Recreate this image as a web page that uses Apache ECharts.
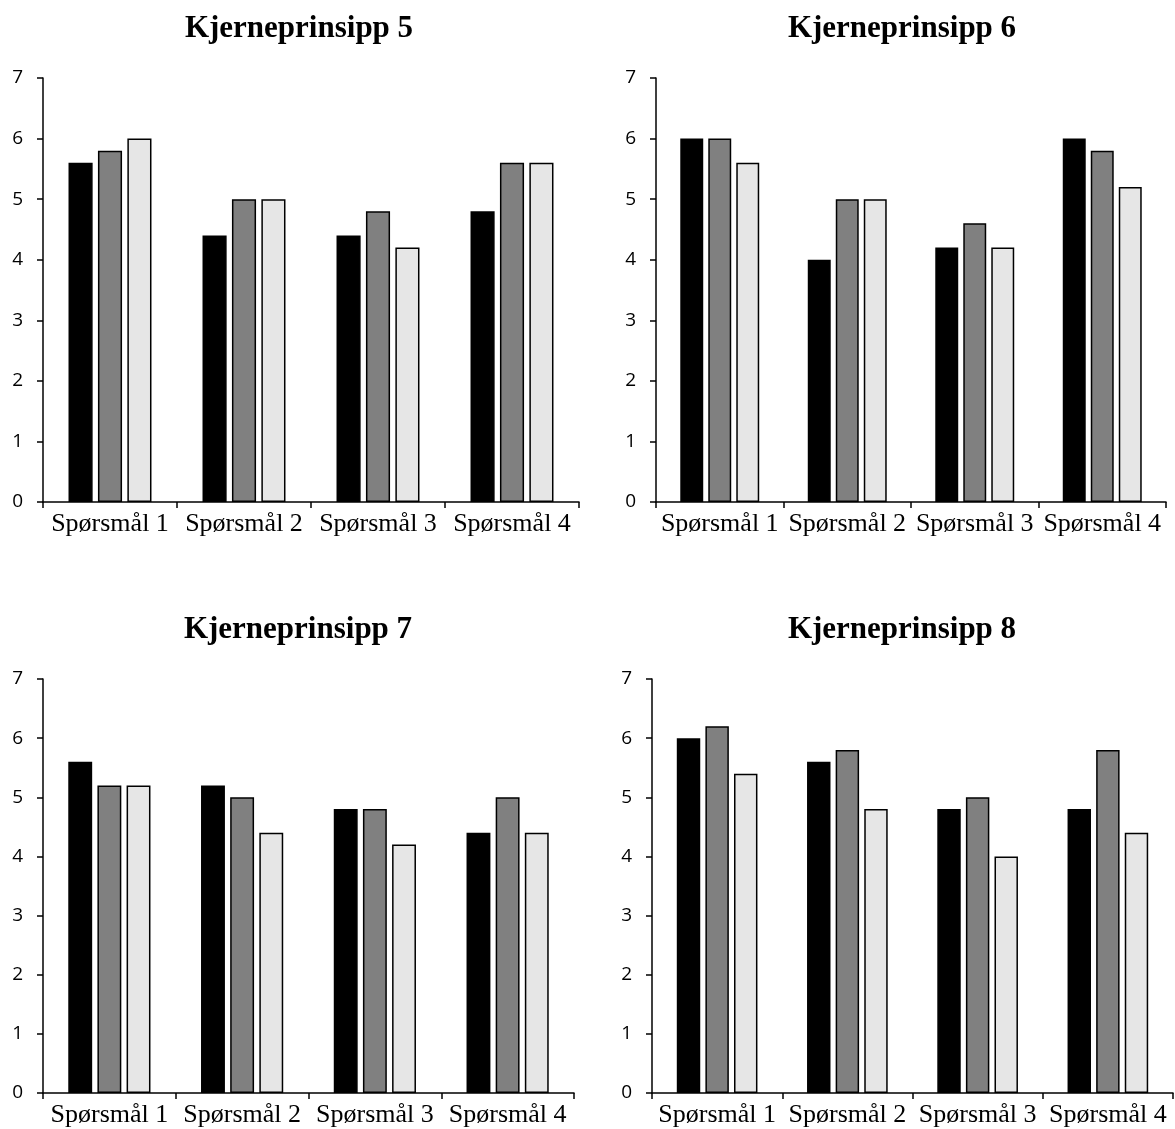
<!DOCTYPE html>
<html>
<head>
<meta charset="utf-8">
<script src="https://cdn.jsdelivr.net/npm/echarts@6/dist/echarts.min.js"></script>
<style>
html,body{margin:0;padding:0;background:#fff;}
#c{width:1175px;height:1129px;}
</style>
</head>
<body>
<div id="c"></div>
<script>
const categories = ['Spørsmål 1', 'Spørsmål 2', 'Spørsmål 3', 'Spørsmål 4'];
const titles = ['Kjerneprinsipp 5', 'Kjerneprinsipp 6', 'Kjerneprinsipp 7', 'Kjerneprinsipp 8'];
const yTicks = [0, 1, 2, 3, 4, 5, 6, 7];

// each panel: three series (black, grey, light grey)
const p5A = [5.6, 4.4, 4.4, 4.8];
const p5B = [5.8, 5.0, 4.8, 5.6];
const p5C = [6.0, 5.0, 4.2, 5.6];

const p6A = [6.0, 4.0, 4.2, 6.0];
const p6B = [6.0, 5.0, 4.6, 5.8];
const p6C = [5.6, 5.0, 4.2, 5.2];

const p7A = [5.6, 5.2, 4.8, 4.4];
const p7B = [5.2, 5.0, 4.8, 5.0];
const p7C = [5.2, 4.4, 4.2, 4.4];

const p8A = [6.0, 5.6, 4.8, 4.8];
const p8B = [6.2, 5.8, 5.0, 5.8];
const p8C = [5.4, 4.8, 4.0, 4.4];

const panelData = [[p5A, p5B, p5C], [p6A, p6B, p6C], [p7A, p7B, p7C], [p8A, p8B, p8C]];
const colors = ['#000000', '#808080', '#e6e6e6'];

const grids = [
  {left: 43, top: 78, width: 536, height: 424},
  {left: 656, top: 78, width: 510, height: 424},
  {left: 43, top: 679, width: 531, height: 414},
  {left: 652, top: 679, width: 521, height: 414}
];
const titlePos = [
  {left: 294, top: 8},
  {left: 897, top: 8},
  {left: 293, top: 609},
  {left: 897, top: 609}
];

const option = {
  animation: false,
  backgroundColor: '#ffffff',
  title: titles.map((t, i) => ({
    text: t,
    left: titlePos[i].left,
    top: titlePos[i].top,
    textAlign: 'center',
    textStyle: {fontFamily: 'Liberation Serif', fontWeight: 'bold', fontSize: 31, color: '#000'}
  })),
  grid: grids.map(g => Object.assign({containLabel: false}, g)),
  xAxis: grids.map((g, i) => ({
    type: 'category',
    gridIndex: i,
    data: categories,
    boundaryGap: true,
    axisLine: {show: true, lineStyle: {color: '#000', width: 1.5}},
    axisTick: {show: true, length: 6, inside: false, lineStyle: {color: '#000', width: 1.5}},
    axisLabel: {fontFamily: 'Liberation Serif', fontSize: 26, color: '#000', margin: 9, interval: 0}
  })),
  yAxis: grids.map((g, i) => ({
    type: 'value',
    gridIndex: i,
    min: 0,
    max: 7,
    interval: 1,
    splitLine: {show: false},
    axisLine: {show: true, lineStyle: {color: '#000', width: 1.5}},
    axisTick: {show: true, length: 6, lineStyle: {color: '#000', width: 1.5}},
    axisLabel: {fontFamily: 'Open Sans', fontSize: 19, color: '#000', margin: 20,
      formatter: v => yTicks.includes(v) ? String(v) : ''}
  })),
  series: []
};

panelData.forEach((sets, p) => {
  sets.forEach((vals, s) => {
    option.series.push({
      type: 'bar',
      xAxisIndex: p,
      yAxisIndex: p,
      data: vals,
      barWidth: '18%',
      barGap: '22%',
      itemStyle: {color: colors[s], borderColor: '#000', borderWidth: 1.5}
    });
  });
});

const chart = echarts.init(document.getElementById('c'), null, {renderer: 'canvas'});
chart.setOption(option);
</script>
</body>
</html>
